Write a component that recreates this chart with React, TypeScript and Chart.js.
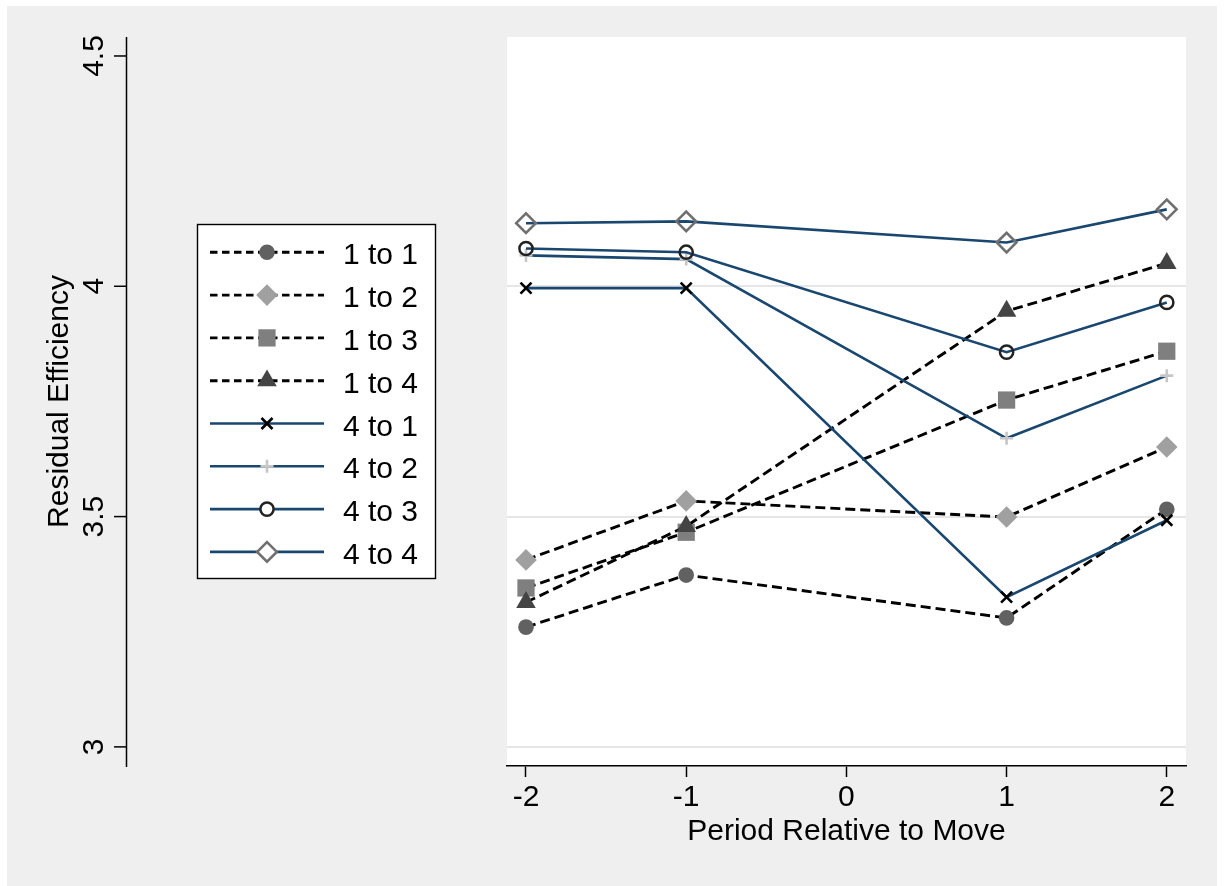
import React, { useEffect, useRef } from 'react';
import { Chart, registerables } from 'chart.js';
import { drawPoint } from 'chart.js/helpers';

Chart.register(...registerables);

// ---------- data ----------
const PERIODS = [-2, -1, 1, 2];
const X_TICKS = [-2, -1, 0, 1, 2];
const Y_TICKS = [3, 3.5, 4, 4.5];
const Y_TICK_LABELS = ['3', '3.5', '4', '4.5'];
const Y_GRID = [3, 3.5, 4];
const SERIES_NAMES = ['1 to 1', '1 to 2', '1 to 3', '1 to 4', '4 to 1', '4 to 2', '4 to 3', '4 to 4'];
const S_1_TO_1 = [3.260, 3.373, 3.280, 3.516];
const S_1_TO_2 = [3.406, 3.534, 3.499, 3.651];
const S_1_TO_3 = [3.345, 3.466, 3.753, 3.859];
const S_1_TO_4 = [3.314, 3.479, 3.946, 4.050];
const S_4_TO_1 = [3.996, 3.996, 3.325, 3.492];
const S_4_TO_2 = [4.067, 4.059, 3.670, 3.806];
const S_4_TO_3 = [4.082, 4.074, 3.857, 3.965];
const S_4_TO_4 = [4.137, 4.141, 4.095, 4.167];
const SERIES_VALUES = [S_1_TO_1, S_1_TO_2, S_1_TO_3, S_1_TO_4, S_4_TO_1, S_4_TO_2, S_4_TO_3, S_4_TO_4];
const X_TITLE = 'Period Relative to Move';
const Y_TITLE = 'Residual Efficiency';

// ---------- styles ----------
const FONT = '"Liberation Sans", Arial, Helvetica, sans-serif';
const NAVY = '#1a476f';
const DASH = [10, 5];
const LEGEND_DASH = [7.5, 4.5];
const SERIES_STYLE = [
  { dashed: true, pointStyle: 'circle', radius: 7.8, fill: '#616161', stroke: '#616161', bw: 0 },
  { dashed: true, pointStyle: 'rectRot', radius: 10.8, fill: '#a0a0a0', stroke: '#a0a0a0', bw: 0 },
  { dashed: true, pointStyle: 'rect', radius: 12.2, fill: '#7f7f7f', stroke: '#7f7f7f', bw: 0 },
  { dashed: true, pointStyle: 'triangle', radius: 11.3, fill: '#444444', stroke: '#444444', bw: 0 },
  { dashed: false, pointStyle: 'crossRot', radius: 7.8, fill: 'rgba(0,0,0,0)', stroke: '#000000', bw: 2.6 },
  { dashed: false, pointStyle: 'cross', radius: 6.5, fill: 'rgba(0,0,0,0)', stroke: '#c6c6c6', bw: 2.6 },
  { dashed: false, pointStyle: 'circle', radius: 6.6, fill: 'rgba(0,0,0,0)', stroke: '#222222', bw: 2.5 },
  { dashed: false, pointStyle: 'rectRot', radius: 9.8, fill: 'rgba(0,0,0,0)', stroke: '#707070', bw: 2.6 },
];

const framePlugin = {
  id: 'stataFrame',
  beforeDraw(chart: any) {
    const { ctx, chartArea: a, width, height } = chart;
    ctx.save();
    ctx.fillStyle = '#ffffff';
    ctx.fillRect(0, 0, width, height);
    ctx.fillStyle = '#efefef';
    ctx.fillRect(7, 6, 1210, 880);
    ctx.fillStyle = '#ffffff';
    ctx.fillRect(a.left, a.top, a.right - a.left, a.bottom - a.top);
    ctx.restore();
  },
  afterDraw(chart: any) {
    const { ctx, chartArea: a } = chart;
    const ys = chart.scales.y;
    ctx.save();
    // y axis line
    ctx.strokeStyle = '#000';
    ctx.lineWidth = 1.5;
    ctx.beginPath();
    ctx.moveTo(126.5, a.top);
    ctx.lineTo(126.5, a.bottom + 1);
    ctx.stroke();
    ctx.font = `30px ${FONT}`;
    ctx.fillStyle = '#000';
    Y_TICKS.forEach((v, i) => {
      const p = ys.getPixelForValue(v);
      ctx.beginPath();
      ctx.moveTo(114, p);
      ctx.lineTo(126.5, p);
      ctx.stroke();
      ctx.save();
      ctx.translate(102.5, p);
      ctx.rotate(-Math.PI / 2);
      ctx.textAlign = 'center';
      ctx.textBaseline = 'alphabetic';
      ctx.fillText(Y_TICK_LABELS[i], 0, 0);
      ctx.restore();
    });
    // y title
    ctx.save();
    ctx.translate(68, (a.top + a.bottom) / 2);
    ctx.rotate(-Math.PI / 2);
    ctx.textAlign = 'center';
    ctx.textBaseline = 'alphabetic';
    ctx.fillText(Y_TITLE, 0, 0);
    ctx.restore();

    // legend
    const lx = 197.5, ly = 224.5, lw = 238, lh = 354;
    ctx.fillStyle = '#ffffff';
    ctx.fillRect(lx, ly, lw, lh);
    ctx.strokeStyle = '#000';
    ctx.lineWidth = 1.4;
    ctx.strokeRect(lx, ly, lw, lh);
    chart.data.datasets.forEach((ds: any, i: number) => {
      const st = SERIES_STYLE[i];
      const y = 252.3 + i * 42.8;
      ctx.save();
      ctx.strokeStyle = ds.borderColor;
      ctx.lineWidth = ds.borderWidth;
      ctx.setLineDash(st.dashed ? LEGEND_DASH : []);
      ctx.beginPath();
      ctx.moveTo(210, y);
      ctx.lineTo(324, y);
      ctx.stroke();
      ctx.restore();
      ctx.save();
      ctx.setLineDash([]);
      ctx.fillStyle = st.bw > 0 && st.pointStyle !== 'cross' && st.pointStyle !== 'crossRot' ? '#ffffff' : st.fill;
      ctx.strokeStyle = st.stroke;
      ctx.lineWidth = st.bw;
      drawPoint(ctx, { pointStyle: st.pointStyle as any, radius: st.radius, rotation: 0, borderWidth: st.bw }, 267, y);
      ctx.restore();
      ctx.fillStyle = '#000';
      ctx.font = `30px ${FONT}`;
      ctx.textAlign = 'left';
      ctx.textBaseline = 'alphabetic';
      ctx.fillText(ds.label, 343, y + 12);
    });
    ctx.restore();
  },
};

export default function App() {
  const ref = useRef<HTMLCanvasElement>(null);
  useEffect(() => {
    document.body.style.margin = '0';
    const canvas = ref.current;
    if (!canvas) return;
    const n = SERIES_NAMES.length;
    const datasets = SERIES_NAMES.map((name, i) => {
      const st = SERIES_STYLE[i];
      return {
        label: name,
        data: PERIODS.map((p, j) => ({ x: p, y: SERIES_VALUES[i][j] })),
        borderColor: st.dashed ? '#000000' : NAVY,
        borderWidth: st.dashed ? 2.9 : 2.6,
        borderDash: st.dashed ? DASH : [],
        fill: false,
        tension: 0,
        pointStyle: st.pointStyle,
        pointRadius: st.radius,
        pointHoverRadius: st.radius,
        pointBackgroundColor: st.fill,
        pointBorderColor: st.stroke,
        pointBorderWidth: st.bw,
        order: n - i,
      };
    });
    const chart = new Chart(canvas, {
      type: 'line',
      data: { datasets } as any,
      plugins: [framePlugin],
      options: {
        animation: false,
        responsive: false,
        events: [],
        layout: { padding: { left: 507, right: 39, top: 37, bottom: 20 } },
        plugins: { legend: { display: false }, tooltip: { enabled: false }, title: { display: false } },
        scales: {
          x: {
            type: 'linear',
            position: 'bottom',
            min: -2.1186,
            max: 2.12,
            afterBuildTicks: (s: any) => { s.ticks = X_TICKS.map((v) => ({ value: v })); },
            afterFit: (s: any) => { s.height = 100; },
            ticks: {
              callback: (v: any) => String(v),
              color: '#000',
              font: { family: FONT, size: 30 },
              padding: 3,
              maxRotation: 0,
              autoSkip: false,
            },
            grid: { display: true, drawOnChartArea: false, drawTicks: true, tickLength: 11, tickColor: '#000', tickWidth: 1.5, color: '#000' },
            border: { display: true, color: '#000', width: 1.6 },
            title: { display: true, text: X_TITLE, color: '#000', font: { family: FONT, size: 30 }, padding: { top: 0, bottom: 16 } },
          },
          y: {
            type: 'linear',
            min: 2.9585,
            max: 4.5412,
            afterBuildTicks: (s: any) => { s.ticks = Y_TICKS.map((v) => ({ value: v })); },
            afterFit: (s: any) => { s.width = 0; },
            ticks: { display: false },
            grid: {
              drawTicks: false,
              lineWidth: 2,
              color: (c: any) => (c.tick && Y_GRID.includes(c.tick.value) ? '#e6e6e6' : 'rgba(0,0,0,0)'),
            },
            border: { display: false },
            title: { display: false },
          },
        },
      } as any,
    });
    return () => chart.destroy();
  }, []);
  return <canvas ref={ref} width={1225} height={886} style={{ display: 'block' }} />;
}
